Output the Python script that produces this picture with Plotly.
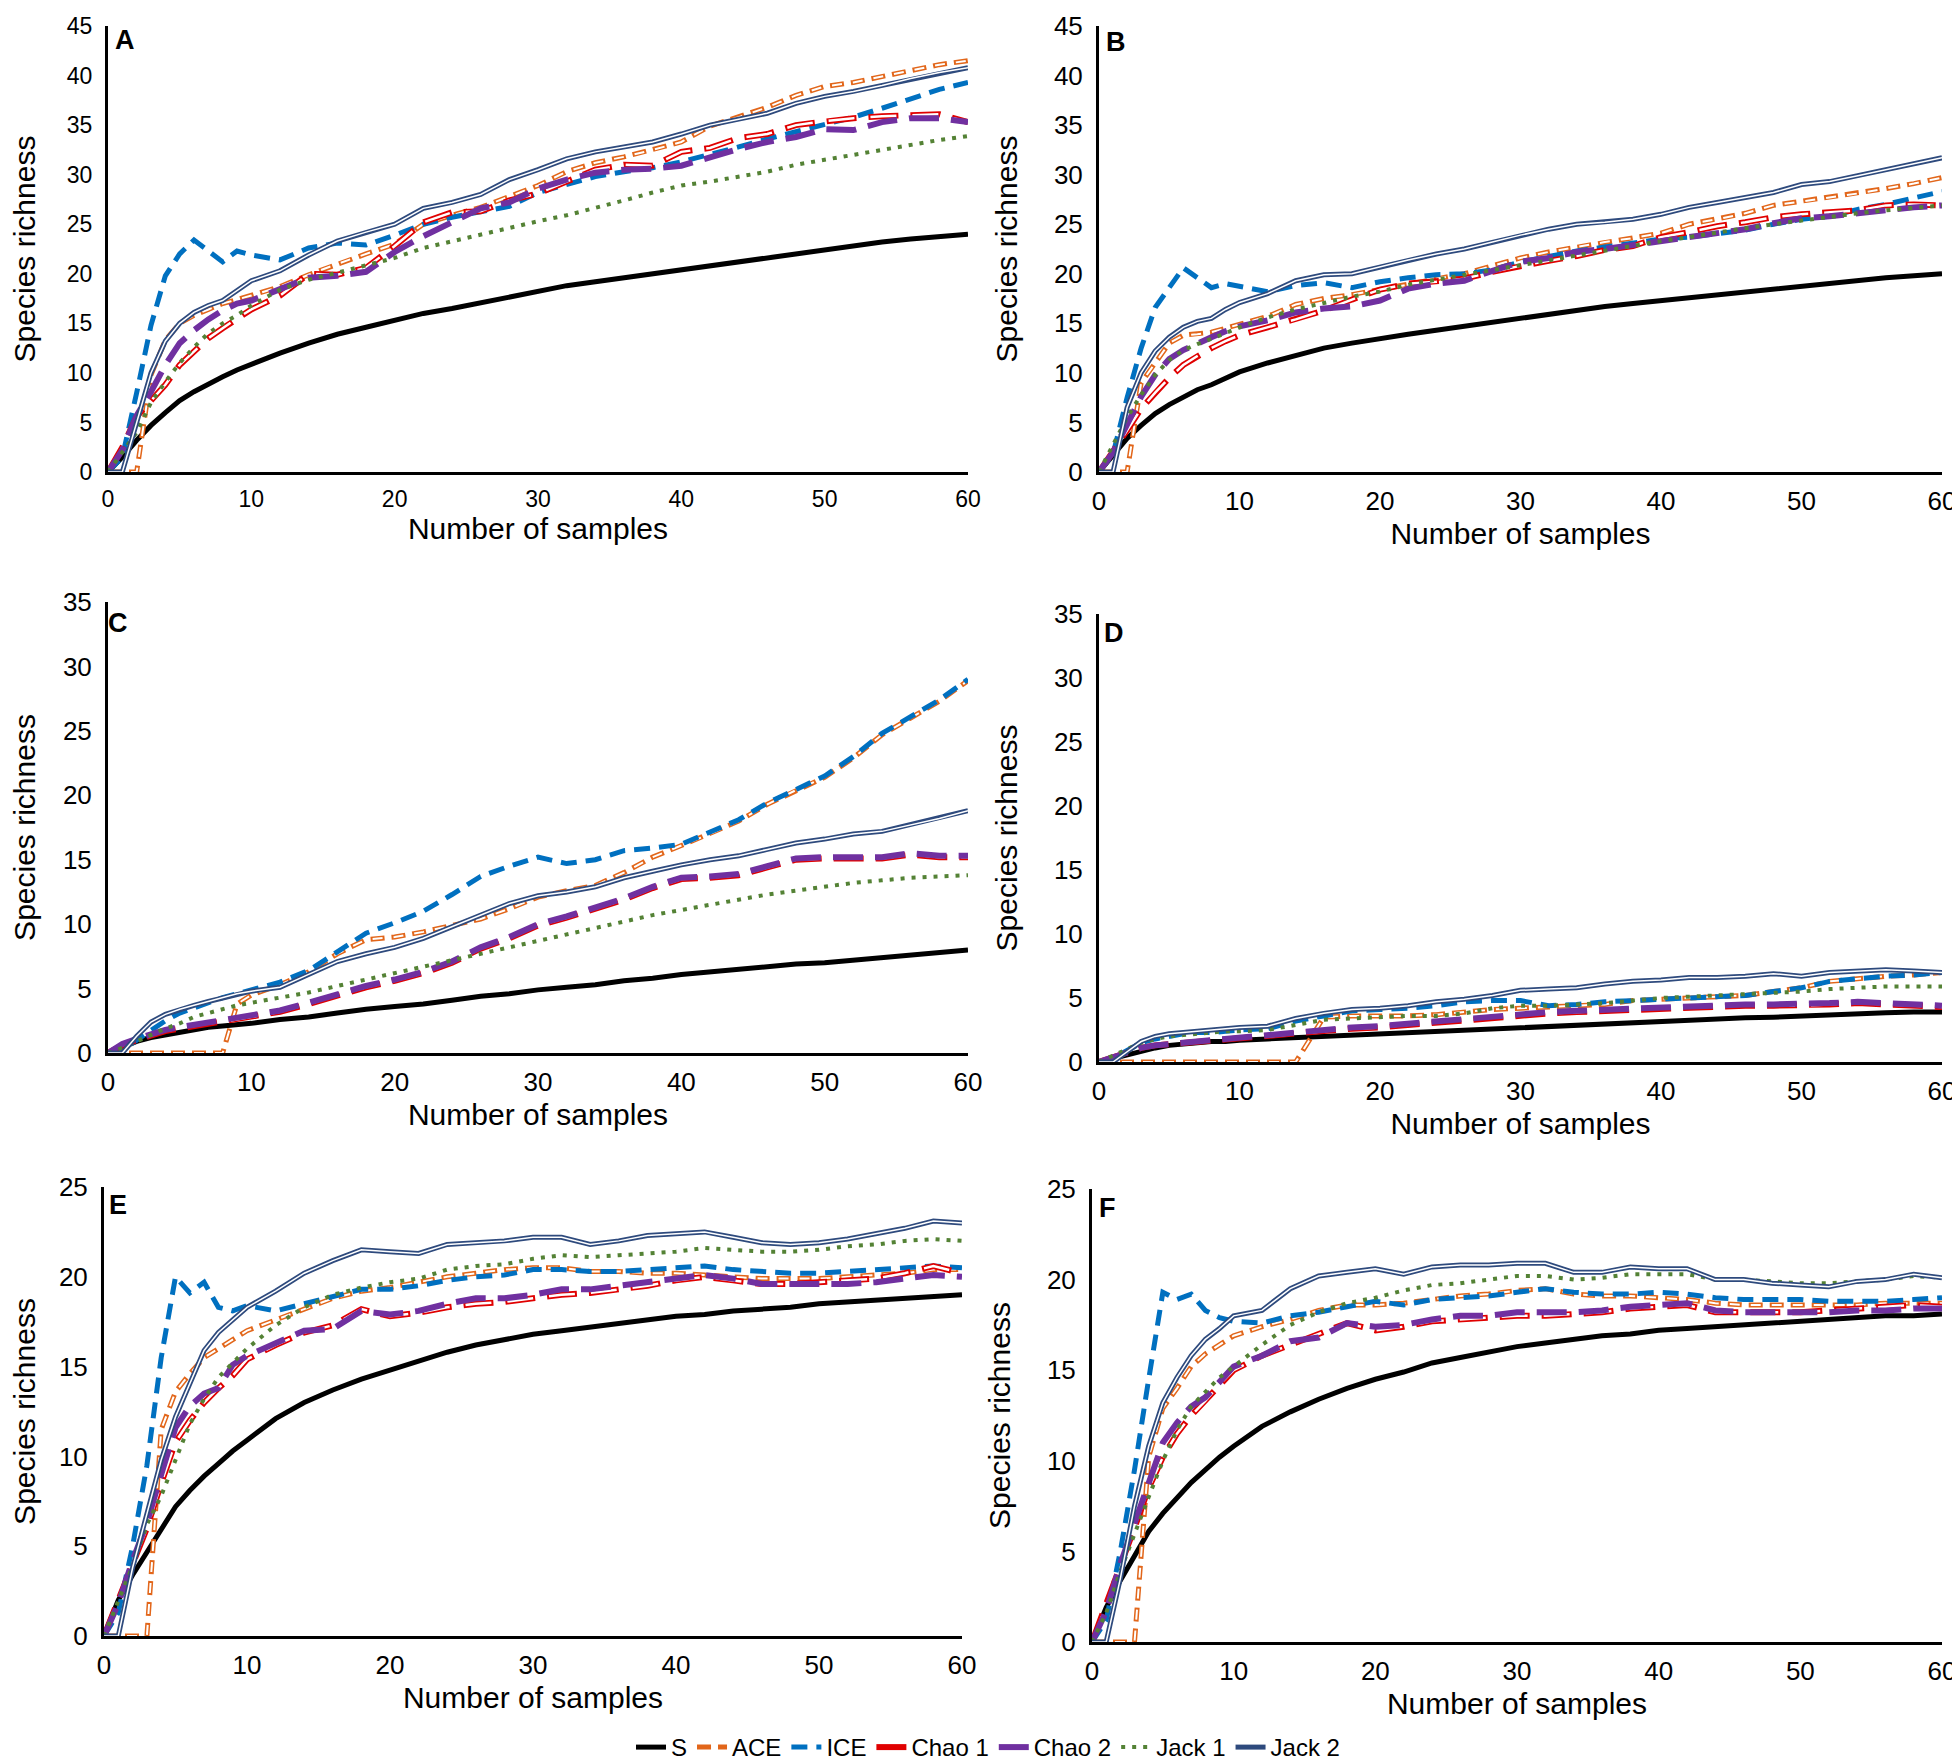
import plotly.graph_objects as go

# Number of samples, shared x values of all six panels
samples = [0, 1, 2, 3, 4, 5, 6, 7, 8, 9, 10, 12, 14, 16, 18, 20, 22, 24, 26, 28, 30,
           32, 34, 36, 38, 40, 42, 44, 46, 48, 50, 52, 54, 56, 58, 60]

estimators = ["S", "ACE", "ICE", "Chao 1", "Chao 2", "Jack 1", "Jack 2"]
panel_letters = ["A", "B", "C", "D", "E", "F"]
y_max = [45, 45, 35, 35, 25, 25]
x_ticks = [0, 10, 20, 30, 40, 50, 60]

# Panel A
a_s = [0, 1.5, 3.2, 4.7, 6.0, 7.2, 8.1, 8.9, 9.6, 10.3, 10.9, 12.0, 13.0, 13.9, 14.6, 15.3, 16.0, 16.5,
       17.1, 17.7, 18.3, 18.8, 19.2, 19.6, 20.0, 20.4, 20.9, 21.3, 21.7, 22.1, 22.5, 22.9, 23.2, 23.5, 23.8, 24.0]
a_ace = [0, 0, 0, 9.8, 13.3, 15.0, 15.8, 16.4, 17.0, 17.4, 17.8, 18.7, 19.9, 21.0, 22.0, 23.0, 25.0, 25.9,
         26.7, 27.8, 28.9, 30.3, 31.2, 31.8, 32.5, 33.3, 34.9, 35.8, 36.8, 38.0, 38.9, 39.3, 39.9, 40.5, 41.1, 41.5]
a_ice = [0, 1.5, 8.0, 14.8, 19.8, 22.0, 23.4, 22.3, 21.2, 22.3, 21.9, 21.4, 22.6, 23.1, 22.9, 23.9, 25.0, 25.7,
         26.2, 26.8, 28.2, 29.0, 29.8, 30.3, 30.7, 31.3, 32.0, 32.8, 33.6, 34.3, 35.1, 35.8, 36.7, 37.7, 38.6, 39.3]
a_chao1 = [0, 2.5, 5.6, 7.2, 8.8, 10.8, 12.2, 13.5, 14.5, 15.5, 16.4, 17.8, 20.0, 19.9, 20.6, 22.8, 25.2, 26.2,
           26.3, 27.4, 28.1, 29.3, 30.5, 31.0, 30.9, 32.3, 32.7, 33.7, 34.1, 35.0, 35.4, 35.7, 35.9, 36.0, 36.1, 35.3]
a_chao2 = [0, 2.2, 5.7, 8.1, 10.8, 13.0, 14.3, 15.4, 16.3, 17.0, 17.3, 18.4, 19.6, 19.8, 20.2, 22.2, 23.8, 25.2,
           26.6, 27.2, 28.6, 29.5, 30.2, 30.5, 30.6, 30.9, 31.8, 32.6, 33.3, 33.8, 34.6, 34.5, 35.3, 35.7, 35.7, 35.3]
a_jack1 = [0, 2.0, 4.0, 7.0, 9.1, 11.0, 12.6, 14.0, 15.0, 15.8, 16.8, 18.4, 19.4, 20.1, 20.8, 21.6, 22.6, 23.3,
           23.9, 24.7, 25.3, 25.9, 26.6, 27.4, 28.2, 28.9, 29.3, 29.8, 30.3, 31.0, 31.5, 32.0, 32.6, 33.1, 33.5, 33.9]
a_jack2 = [0, 0, 5.0, 10.0, 13.2, 15.0, 16.1, 16.8, 17.3, 18.3, 19.3, 20.3, 21.9, 23.3, 24.2, 25.0, 26.6, 27.2,
           28.0, 29.5, 30.5, 31.6, 32.3, 32.8, 33.3, 34.1, 35.0, 35.6, 36.2, 37.2, 37.9, 38.4, 39.0, 39.7, 40.3, 40.8]

# Panel B
b_s = [0, 1.8, 3.4, 4.7, 5.9, 6.8, 7.6, 8.3, 8.8, 9.5, 10.1, 11.0, 11.8, 12.5, 13.0, 13.5, 13.9, 14.3,
       14.7, 15.1, 15.6, 16.0, 16.3, 16.7, 17.0, 17.3, 17.6, 17.9, 18.2, 18.5, 18.7, 19.0, 19.3, 19.6, 19.8, 20.0]
b_ace = [0, 0, 0, 9.0, 11.0, 13.0, 13.8, 13.9, 14.1, 14.5, 14.9, 15.7, 16.9, 17.5, 17.9, 18.4, 18.9, 19.5,
         20.0, 20.8, 21.6, 22.2, 22.7, 23.2, 23.6, 24.1, 25.0, 25.5, 26.1, 26.9, 27.3, 27.7, 28.1, 28.6, 29.1, 29.7]
b_ice = [0, 1.8, 7.5, 12.5, 16.6, 18.5, 20.6, 19.6, 18.6, 19.0, 18.7, 18.2, 18.8, 19.1, 18.6, 19.2, 19.6, 19.9,
         20.0, 20.4, 21.2, 21.8, 22.3, 22.7, 23.1, 23.5, 23.7, 24.0, 24.4, 25.0, 25.5, 25.8, 26.5, 27.0, 27.6, 28.3]
b_chao1 = [0, 2.0, 4.2, 6.4, 8.0, 9.5, 10.8, 11.7, 12.5, 13.2, 13.8, 14.6, 15.4, 16.3, 17.4, 18.4, 19.0, 19.2,
           19.5, 20.2, 20.8, 21.3, 21.8, 22.4, 22.8, 23.7, 24.2, 24.8, 25.2, 25.7, 26.0, 26.2, 26.4, 26.9, 27.0, 26.9]
b_chao2 = [0, 2.0, 4.8, 7.6, 9.8, 11.4, 12.3, 13.0, 13.6, 14.2, 14.7, 15.3, 16.1, 16.5, 16.7, 17.3, 18.5, 19.0,
           19.3, 20.3, 21.2, 21.6, 22.2, 22.5, 22.9, 23.3, 23.7, 24.1, 24.5, 25.1, 25.6, 25.8, 26.1, 26.5, 26.7, 26.9]
b_jack1 = [0, 2.8, 5.5, 7.8, 9.8, 11.3, 12.3, 12.9, 13.4, 14.0, 14.6, 15.6, 16.4, 17.1, 17.7, 18.2, 18.9, 19.4,
           19.9, 20.4, 20.9, 21.4, 21.9, 22.4, 22.8, 23.3, 23.7, 24.2, 24.6, 25.0, 25.4, 25.8, 26.1, 26.4, 26.7, 26.9]
b_jack2 = [0, 0, 6.5, 10.0, 12.2, 13.6, 14.6, 15.2, 15.5, 16.4, 17.1, 18.0, 19.3, 19.9, 20.0, 20.7, 21.4, 22.0,
           22.5, 23.2, 23.9, 24.5, 25.0, 25.2, 25.5, 26.0, 26.7, 27.2, 27.7, 28.2, 29.0, 29.3, 29.9, 30.5, 31.1, 31.7]

# Panel C
c_s = [0, 0.5, 0.9, 1.2, 1.4, 1.6, 1.8, 2.0, 2.1, 2.2, 2.3, 2.6, 2.8, 3.1, 3.4, 3.6, 3.8, 4.1,
       4.4, 4.6, 4.9, 5.1, 5.3, 5.6, 5.8, 6.1, 6.3, 6.5, 6.7, 6.9, 7.0, 7.2, 7.4, 7.6, 7.8, 8.0]
c_ace = [0, 0, 0, 0, 0, 0, 0, 0, 0, 3.8, 4.5, 5.3, 6.3, 7.7, 8.8, 9.0, 9.4, 9.9,
         10.4, 11.2, 12.1, 12.6, 13.0, 14.0, 15.2, 16.1, 17.0, 18.0, 19.3, 20.4, 21.4, 22.9, 24.7, 26.0, 27.3, 28.9]
c_ice = [0, 0.2, 1.0, 1.8, 2.5, 3.1, 3.5, 4.0, 4.3, 4.6, 4.9, 5.5, 6.4, 7.9, 9.3, 10.1, 11.0, 12.3,
         13.7, 14.5, 15.2, 14.7, 15.0, 15.7, 15.9, 16.2, 17.1, 18.1, 19.4, 20.5, 21.5, 23.0, 24.8, 26.1, 27.4, 29.0]
c_chao1 = [0, 0.6, 1.0, 1.4, 1.7, 1.9, 2.1, 2.3, 2.4, 2.6, 2.8, 3.2, 3.8, 4.5, 5.1, 5.6, 6.2, 7.0,
           8.1, 8.9, 9.9, 10.5, 11.2, 11.9, 12.8, 13.5, 13.6, 13.8, 14.4, 15.0, 15.1, 15.1, 15.1, 15.4, 15.2, 15.2]
c_chao2 = [0, 0.7, 1.1, 1.5, 1.8, 2.0, 2.2, 2.4, 2.5, 2.7, 2.9, 3.3, 3.9, 4.6, 5.2, 5.7, 6.3, 7.1,
           8.2, 9.0, 10.0, 10.6, 11.3, 12.0, 12.9, 13.6, 13.7, 13.9, 14.5, 15.1, 15.2, 15.2, 15.2, 15.5, 15.3, 15.3]
c_jack1 = [0, 0.4, 0.9, 1.4, 1.9, 2.3, 2.8, 3.1, 3.4, 3.7, 3.9, 4.3, 4.7, 5.2, 5.7, 6.2, 6.7, 7.2,
           7.7, 8.2, 8.7, 9.2, 9.7, 10.2, 10.7, 11.1, 11.5, 11.9, 12.3, 12.6, 12.9, 13.2, 13.4, 13.6, 13.7, 13.8]
c_jack2 = [0, 0, 1.3, 2.4, 3.0, 3.4, 3.7, 4.0, 4.3, 4.6, 4.8, 5.1, 6.1, 7.1, 7.7, 8.2, 8.9, 9.8,
           10.7, 11.6, 12.2, 12.5, 12.9, 13.6, 14.1, 14.6, 15.0, 15.3, 15.8, 16.3, 16.6, 17.0, 17.2, 17.7, 18.2, 18.8]

# Panel D
d_s = [0, 0.3, 0.6, 0.9, 1.1, 1.3, 1.4, 1.5, 1.6, 1.6, 1.7, 1.8, 1.9, 2.0, 2.1, 2.2, 2.3, 2.4,
       2.5, 2.6, 2.7, 2.8, 2.9, 3.0, 3.1, 3.2, 3.3, 3.4, 3.45, 3.5, 3.6, 3.7, 3.8, 3.85, 3.9, 3.9]
d_ace = [0, 0, 0, 0, 0, 0, 0, 0, 0, 0, 0, 0, 0, 3.5, 3.6, 3.6, 3.6, 3.7,
         3.9, 4.1, 4.2, 4.3, 4.4, 4.5, 4.8, 4.9, 5.0, 5.1, 5.2, 5.5, 5.8, 6.3, 6.5, 6.7, 6.8, 7.0]
d_ice = [0, 0.3, 0.9, 1.5, 1.8, 2.0, 2.2, 2.3, 2.3, 2.4, 2.5, 2.6, 3.2, 3.6, 4.0, 4.1, 4.2, 4.4,
         4.7, 4.8, 4.8, 4.4, 4.5, 4.7, 4.8, 4.9, 5.0, 5.1, 5.2, 5.5, 5.8, 6.3, 6.5, 6.7, 6.8, 7.0]
d_chao1 = [0, 0.4, 0.8, 1.1, 1.3, 1.4, 1.5, 1.6, 1.7, 1.8, 1.9, 2.0, 2.2, 2.4, 2.6, 2.7, 2.9, 3.1,
           3.3, 3.5, 3.7, 3.8, 3.9, 4.0, 4.1, 4.2, 4.3, 4.4, 4.4, 4.4, 4.4, 4.5, 4.6, 4.5, 4.4, 4.3]
d_chao2 = [0, 0.4, 0.8, 1.1, 1.3, 1.4, 1.5, 1.6, 1.8, 1.9, 2.0, 2.1, 2.3, 2.5, 2.7, 2.8, 3.0, 3.2,
           3.4, 3.6, 3.8, 3.9, 4.0, 4.1, 4.2, 4.3, 4.4, 4.5, 4.5, 4.5, 4.5, 4.6, 4.7, 4.6, 4.5, 4.4]
d_jack1 = [0, 0.5, 1.0, 1.5, 1.8, 2.0, 2.1, 2.2, 2.3, 2.4, 2.4, 2.5, 2.9, 3.3, 3.4, 3.5, 3.6, 3.6,
           3.8, 4.2, 4.4, 4.4, 4.5, 4.6, 4.8, 5.0, 5.1, 5.2, 5.3, 5.4, 5.5, 5.7, 5.8, 5.9, 5.9, 5.9]
d_jack2 = [0, 0, 0.8, 1.6, 2.0, 2.2, 2.3, 2.4, 2.5, 2.6, 2.7, 2.8, 3.4, 3.8, 4.1, 4.2, 4.4, 4.7,
           4.9, 5.2, 5.6, 5.7, 5.8, 6.1, 6.3, 6.4, 6.6, 6.6, 6.7, 6.9, 6.7, 7.0, 7.1, 7.2, 7.1, 7.0]

# Panel E
e_s = [0, 2.0, 3.4, 4.7, 6.0, 7.2, 8.1, 8.9, 9.6, 10.3, 10.9, 12.1, 13.0, 13.7, 14.3, 14.8, 15.3, 15.8,
       16.2, 16.5, 16.8, 17.0, 17.2, 17.4, 17.6, 17.8, 17.9, 18.1, 18.2, 18.3, 18.5, 18.6, 18.7, 18.8, 18.9, 19.0]
e_ace = [0, 0, 0, 0, 11.5, 13.6, 14.6, 15.5, 16.0, 16.5, 17.0, 17.6, 18.2, 18.8, 19.2, 19.4, 19.7, 20.0,
         20.2, 20.4, 20.5, 20.5, 20.3, 20.3, 20.2, 20.2, 20.1, 20.0, 19.9, 19.9, 19.9, 20.0, 20.1, 20.2, 20.4, 20.4]
e_ice = [0, 1.3, 5.0, 9.5, 15.5, 20.0, 19.1, 19.7, 18.3, 18.1, 18.4, 18.1, 18.5, 18.9, 19.3, 19.3, 19.5, 19.8,
         20.0, 20.1, 20.4, 20.4, 20.3, 20.3, 20.4, 20.5, 20.6, 20.4, 20.3, 20.2, 20.2, 20.3, 20.4, 20.5, 20.6, 20.5]
e_chao1 = [0, 2.0, 4.0, 6.0, 8.5, 10.8, 12.0, 13.0, 13.8, 14.5, 15.4, 16.2, 16.9, 17.3, 18.2, 17.8, 18.0, 18.3,
           18.5, 18.6, 18.8, 19.0, 19.1, 19.3, 19.5, 19.8, 20.0, 19.8, 19.6, 19.6, 19.7, 19.8, 19.9, 20.2, 20.6, 20.2]
e_chao2 = [0, 1.8, 4.2, 6.3, 9.0, 11.6, 12.8, 13.5, 13.8, 15.1, 15.6, 16.3, 17.0, 17.1, 18.1, 17.9, 18.1, 18.5,
           18.8, 18.8, 19.0, 19.3, 19.3, 19.5, 19.7, 19.9, 20.1, 19.9, 19.6, 19.6, 19.6, 19.6, 19.7, 19.9, 20.1, 20.0]
e_jack1 = [0, 1.9, 3.9, 6.2, 7.8, 9.8, 11.8, 13.2, 14.4, 15.2, 16.0, 17.3, 18.3, 19.0, 19.4, 19.7, 19.9, 20.4,
           20.6, 20.7, 21.0, 21.2, 21.1, 21.2, 21.3, 21.4, 21.6, 21.5, 21.4, 21.4, 21.5, 21.7, 21.8, 22.0, 22.1, 22.0]
e_jack2 = [0, 0, 3.8, 6.8, 9.8, 12.2, 14.1, 15.9, 16.9, 17.6, 18.3, 19.2, 20.2, 20.9, 21.5, 21.4, 21.3, 21.8,
           21.9, 22.0, 22.2, 22.2, 21.8, 22.0, 22.3, 22.4, 22.5, 22.2, 21.9, 21.8, 21.9, 22.1, 22.4, 22.7, 23.1, 23.0]

# Panel F
f_s = [0, 1.9, 3.4, 4.8, 6.1, 7.1, 8.0, 8.8, 9.5, 10.2, 10.8, 11.9, 12.7, 13.4, 14.0, 14.5, 14.9, 15.4,
       15.7, 16.0, 16.3, 16.5, 16.7, 16.9, 17.0, 17.2, 17.3, 17.4, 17.5, 17.6, 17.7, 17.8, 17.9, 18.0, 18.0, 18.1]
f_ace = [0, 0, 0, 0, 10.2, 12.9, 14.0, 15.2, 15.9, 16.4, 16.9, 17.4, 17.8, 18.3, 18.6, 18.6, 18.7, 18.9,
         19.1, 19.2, 19.4, 19.5, 19.2, 19.1, 19.1, 19.0, 18.9, 18.7, 18.6, 18.6, 18.6, 18.6, 18.6, 18.7, 18.7, 18.7]
f_ice = [0, 1.2, 5.0, 9.5, 14.5, 19.3, 18.9, 19.2, 18.3, 17.9, 17.7, 17.6, 18.0, 18.2, 18.5, 18.8, 18.6, 18.9,
         19.0, 19.1, 19.3, 19.5, 19.3, 19.2, 19.2, 19.3, 19.2, 19.0, 18.9, 18.9, 18.9, 18.8, 18.8, 18.8, 18.9, 19.0]
f_chao1 = [0, 2.0, 4.2, 6.3, 8.5, 10.2, 11.5, 12.5, 13.3, 14.2, 15.0, 15.8, 16.4, 17.0, 17.6, 17.2, 17.4, 17.7,
           17.8, 17.9, 18.0, 18.0, 18.1, 18.2, 18.4, 18.5, 18.6, 18.2, 18.2, 18.2, 18.2, 18.3, 18.4, 18.5, 18.6, 18.5]
f_chao2 = [0, 1.7, 4.3, 6.5, 8.8, 11.0, 12.1, 13.0, 13.5, 14.3, 15.2, 15.8, 16.6, 16.8, 17.6, 17.4, 17.5, 17.8,
           18.0, 18.0, 18.2, 18.2, 18.2, 18.3, 18.5, 18.6, 18.7, 18.3, 18.2, 18.2, 18.2, 18.2, 18.3, 18.3, 18.4, 18.4]
f_jack1 = [0, 1.6, 3.9, 6.0, 8.0, 10.0, 11.7, 13.0, 13.8, 14.6, 15.2, 16.4, 17.5, 18.2, 18.7, 19.0, 19.4, 19.7,
           19.8, 20.0, 20.2, 20.2, 20.0, 20.1, 20.3, 20.3, 20.3, 20.0, 20.0, 19.9, 19.8, 19.8, 19.9, 20.0, 20.2, 20.1]
f_jack2 = [0, 0, 3.5, 7.5, 10.8, 13.2, 14.6, 15.8, 16.7, 17.3, 18.0, 18.3, 19.5, 20.2, 20.4, 20.6, 20.3, 20.7,
           20.8, 20.8, 20.9, 20.9, 20.4, 20.4, 20.7, 20.6, 20.6, 20.0, 20.0, 19.8, 19.7, 19.6, 19.9, 20.0, 20.3, 20.1]

panels = [
    [a_s, a_ace, a_ice, a_chao1, a_chao2, a_jack1, a_jack2],
    [b_s, b_ace, b_ice, b_chao1, b_chao2, b_jack1, b_jack2],
    [c_s, c_ace, c_ice, c_chao1, c_chao2, c_jack1, c_jack2],
    [d_s, d_ace, d_ice, d_chao1, d_chao2, d_jack1, d_jack2],
    [e_s, e_ace, e_ice, e_chao1, e_chao2, e_jack1, e_jack2],
    [f_s, f_ace, f_ice, f_chao1, f_chao2, f_jack1, f_jack2],
]

# line look of each estimator; "inner" draws a white core to get the outlined lines
styles = {
    "S": dict(color="#000000", width=5, dash="solid"),
    "ACE": dict(color="#E2661A", width=5, dash="14px,7px", inner=dict(width=2, dash="0px,2px,10px,9px")),
    "ICE": dict(color="#0070C0", width=5, dash="16px,9px"),
    "Chao 1": dict(color="#E00000", width=6, dash="30px,12px", inner=dict(width=2.5, dash="0px,2px,26px,14px")),
    "Chao 2": dict(color="#7030A0", width=6, dash="30px,12px"),
    "Jack 1": dict(color="#548235", width=4, dash="4px,7px"),
    "Jack 2": dict(color="#2E4A7D", width=5, dash="solid", inner=dict(width=1.5, dash="solid")),
}

W, H = 1960, 1762
# plot areas in pixels: left, right, top, bottom
boxes = [(100, 960, 18, 464), (1091, 1934, 18, 464),
         (100, 960, 594, 1045), (1091, 1934, 606, 1054),
         (96, 954, 1179, 1628), (1084, 1934, 1181, 1634)]
# centre of each panel letter, in pixels
letter_px = [(117, 32), (1108, 34), (110, 615), (1106, 625), (110, 1197), (1099, 1200)]

FONT = "Liberation Sans, Arial, sans-serif"

fig = go.Figure()
layout = dict(
    width=W, height=H,
    margin=dict(l=0, r=0, t=0, b=0, autoexpand=False),
    paper_bgcolor="white", plot_bgcolor="white",
    font=dict(family=FONT, color="black"),
    showlegend=True,
    legend=dict(orientation="h", x=0.5, xanchor="center", y=0, yanchor="bottom",
                font=dict(size=24), itemwidth=30, traceorder="normal"),
    annotations=[],
)

for i, (l, r, t, b) in enumerate(boxes):
    n = "" if i == 0 else str(i + 1)
    tick_font = dict(size=23) if i == 0 else dict(size=26)
    layout["xaxis" + n] = dict(
        domain=[l / W, r / W], anchor="y" + n, range=[0, 60], tickvals=x_ticks,
        showline=True, linecolor="black", linewidth=3, showgrid=False, zeroline=False,
        ticks="", ticklabelstandoff=4, tickfont=tick_font, ticklabeloverflow="allow",
        layer="below traces",
        title=dict(text="Number of samples", font=dict(size=30), standoff=8),
    )
    layout["yaxis" + n] = dict(
        domain=[1 - b / H, 1 - t / H], anchor="x" + n, range=[0, y_max[i]],
        tickvals=list(range(0, y_max[i] + 1, 5)),
        showline=True, linecolor="black", linewidth=3, showgrid=False, zeroline=False,
        ticks="", ticklabelstandoff=8, tickfont=tick_font, ticklabeloverflow="allow",
        layer="below traces",
        title=dict(text="Species richness", font=dict(size=30), standoff=50 if i % 2 == 0 else 28),
    )
    lx, ly = letter_px[i]
    layout["annotations"].append(dict(
        text="<b>" + panel_letters[i] + "</b>", xref="x" + n + " domain", yref="y" + n + " domain",
        x=(lx - l) / (r - l), y=(b - ly) / (b - t), xanchor="center", yanchor="middle",
        showarrow=False, font=dict(size=27, color="black"),
    ))

    for name, values in zip(estimators, panels[i]):
        st = styles[name]
        fig.add_trace(go.Scatter(
            x=samples, y=values, mode="lines", name=name, legendgroup=name,
            showlegend=(i == 0), xaxis="x" + n, yaxis="y" + n,
            line=dict(color=st["color"], width=st["width"], dash=st["dash"]),
            hoverinfo="skip",
        ))
        if "inner" in st:
            fig.add_trace(go.Scatter(
                x=samples, y=values, mode="lines", name=name, legendgroup=name,
                showlegend=False, xaxis="x" + n, yaxis="y" + n,
                line=dict(color="white", width=st["inner"]["width"], dash=st["inner"]["dash"]),
                hoverinfo="skip",
            ))

fig.update_layout(layout)
fig.write_html("out.html")
